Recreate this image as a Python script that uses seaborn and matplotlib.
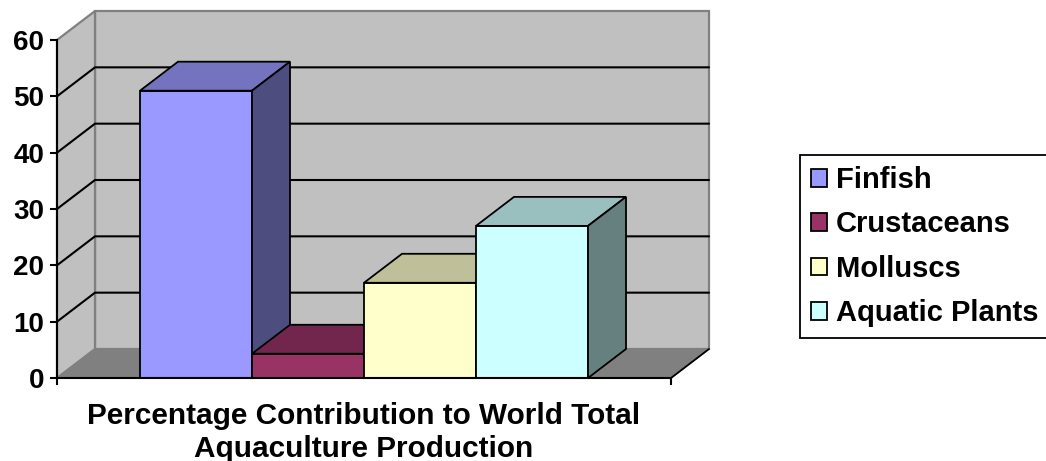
import numpy as np
import pandas as pd
import seaborn as sns
import matplotlib.pyplot as plt
from matplotlib.patches import Polygon, Patch
from matplotlib.colors import to_rgb

# chart data
species = ['Finfish', 'Crustaceans', 'Molluscs', 'Aquatic Plants']
share = [51.0, 4.3, 16.9, 27.0]
front_colors = ['#9999FF', '#993366', '#FFFFCC', '#CCFFFF']
y_ticks = [0, 10, 20, 30, 40, 50, 60]
category_label = 'Percentage Contribution to World Total\nAquaculture Production'

df = pd.DataFrame({'species': species, 'share': share})

sns.set_theme(style='white')
plt.rcParams['font.family'] = ['Liberation Sans', 'DejaVu Sans']
plt.rcParams['font.weight'] = 'bold'
plt.rcParams['text.color'] = 'black'

fig = plt.figure(figsize=(10.46, 4.61), dpi=100)
ax = fig.add_axes([57 / 1046, 83 / 461, 614 / 1046, 338 / 461])
ax.patch.set_visible(False)

sns.barplot(data=df, x='species', y='share', hue='species', order=species,
            hue_order=species, palette=front_colors, width=1.0, saturation=1,
            edgecolor='black', linewidth=1.3, legend=False, ax=ax)
bars = sorted(ax.patches, key=lambda p: p.get_x())

x_lo, x_hi = -1.241, 4.241
ax.set_xlim(x_lo, x_hi)
ax.set_ylim(0, 60)

# depth of the fake 3d box, 38 x 29 pixels, in data units
inv = ax.transData.inverted()
o = inv.transform([(0, 0), (38, 29)])
dx, dy = o[1] - o[0]

top = y_ticks[-1]
wall = '#C0C0C0'
edge = '#808080'
ax.add_patch(Polygon([(x_lo + dx, dy), (x_hi + dx, dy), (x_hi + dx, top + dy), (x_lo + dx, top + dy)],
                     fc=wall, ec=edge, lw=1.6, clip_on=False, zorder=0.1))
ax.add_patch(Polygon([(x_lo, 0), (x_lo + dx, dy), (x_lo + dx, top + dy), (x_lo, top)],
                     fc=wall, ec=edge, lw=1.6, clip_on=False, zorder=0.1))
ax.add_patch(Polygon([(x_lo, 0), (x_hi, 0), (x_hi + dx, dy), (x_lo + dx, dy)],
                     fc=edge, ec=edge, lw=1.0, clip_on=False, zorder=0.2))
ax.plot([x_hi, x_hi + dx], [0, dy], color='black', lw=1.3, clip_on=False, zorder=0.25)

# gridlines running over the left wall and the back wall
for v in y_ticks[1:-1]:
    ax.plot([x_lo, x_lo + dx, x_hi + dx], [v, v + dy, v + dy], color='black', lw=1.5,
            clip_on=False, zorder=0.3, solid_joinstyle='miter')

# top and side faces of each bar
for k, bar in enumerate(bars):
    x0 = bar.get_x()
    x1 = x0 + bar.get_width()
    h = bar.get_height()
    c = np.array(to_rgb(bar.get_facecolor()))
    z = 2 + k * 0.1
    bar.set_zorder(z)
    ax.add_patch(Polygon([(x0, h), (x1, h), (x1 + dx, h + dy), (x0 + dx, h + dy)],
                         fc=c * 0.75, ec='black', lw=1.3, clip_on=False, zorder=z,
                         joinstyle='miter'))
    ax.add_patch(Polygon([(x1, 0), (x1 + dx, dy), (x1 + dx, h + dy), (x1, h)],
                         fc=c * 0.5, ec='black', lw=1.3, clip_on=False, zorder=z,
                         joinstyle='miter'))

for s in ['top', 'right']:
    ax.spines[s].set_visible(False)
for s in ['left', 'bottom']:
    ax.spines[s].set_color('black')
    ax.spines[s].set_linewidth(1.5)
    ax.spines[s].set_zorder(3)

ax.set_yticks(y_ticks)
ax.set_xticks([x_lo, x_hi])
ax.set_xticklabels([])
ax.tick_params(axis='y', left=True, direction='out', length=5, width=1.5, color='black',
               pad=4, labelsize=20, labelcolor='black')
ax.tick_params(axis='x', bottom=True, direction='out', length=5, width=1.5, color='black')
ax.set_ylabel('')
ax.set_xlabel(category_label, fontsize=21.4, fontweight='bold', color='black',
              labelpad=9, linespacing=1.2)

handles = [Patch(facecolor=c, edgecolor='black', lw=1.3, label=s)
           for s, c in zip(species, front_colors)]
leg = fig.legend(handles=handles, loc='upper left',
                 bbox_to_anchor=(800 / 1046, 1 - 155 / 461, 260 / 1046, 0.0),
                 mode='expand', prop={'weight': 'bold', 'size': 21},
                 frameon=True, fancybox=False, framealpha=1, edgecolor='black',
                 borderpad=0.38, handlelength=0.55, handleheight=0.55,
                 handletextpad=0.3, labelspacing=0.56, borderaxespad=0)
leg.get_frame().set_linewidth(1.3)
for t in leg.get_texts():
    t.set_color('black')

fig.savefig('out.png', dpi=100)
